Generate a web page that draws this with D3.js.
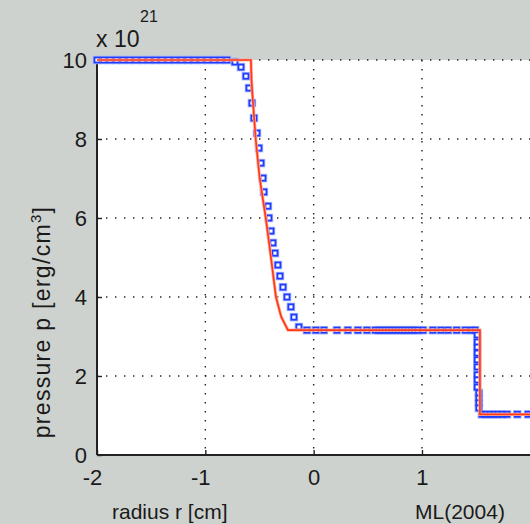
<!DOCTYPE html>
<html>
<head>
<meta charset="utf-8">
<script src="https://cdn.jsdelivr.net/npm/d3@7"></script>
<style>
  body { margin: 0; background: #ced2ce; }
  svg { display: block; }
  text { font-family: "Liberation Sans", Arial, sans-serif; fill: #1a1a1a; }
</style>
</head>
<body>
<div id="chart"></div>
<script>
// exact solution (red line)
var rExact = [-2, -0.579, -0.574, -0.562, -0.535, -0.498, -0.442, -0.394, -0.348, -0.300, -0.237, 1.535, 1.535, 2];
var pExact = [10, 10, 9.5, 9.0, 8.0, 7.0, 6.0, 5.0, 4.0, 3.5, 3.16, 3.16, 1.03, 1.03];

// numerical result (blue squares)
var rNum = [-2.00, -1.94, -1.88, -1.82, -1.76, -1.70, -1.64, -1.58, -1.52, -1.46, -1.40, -1.34, -1.28, -1.22, -1.16, -1.10, -1.04, -0.98, -0.92, -0.86, -0.80,
  -0.727, -0.671, -0.625, -0.597, -0.570, -0.551, -0.523, -0.505, -0.486, -0.468, -0.459, -0.422, -0.413, -0.394, -0.376, -0.357, -0.330, -0.311, -0.283, -0.246, -0.210, -0.182, -0.136,
  -0.062, 0.02, 0.095, 0.215, 0.316, 0.409, 0.492, 0.57, 0.60, 0.63, 0.66, 0.69, 0.72, 0.75, 0.78, 0.81, 0.84, 0.87, 0.90, 0.93, 0.96, 1.01, 1.10, 1.175, 1.24, 1.32, 1.40, 1.46, 1.49,
  1.51, 1.51, 1.51, 1.51, 1.51, 1.51, 1.51, 1.51, 1.51, 1.525, 1.525, 1.525, 1.525,
  1.553, 1.59, 1.63, 1.665, 1.70, 1.74, 1.785, 1.88, 1.98];
var pNum = [10, 10, 10, 10, 10, 10, 10, 10, 10, 10, 10, 10, 10, 10, 10, 10, 10, 10, 10, 10, 10,
  9.95, 9.82, 9.59, 9.29, 8.91, 8.53, 8.15, 7.77, 7.39, 7.01, 6.66, 6.30, 6.00, 5.67, 5.37, 5.11, 4.81, 4.53, 4.25, 4.00, 3.75, 3.49, 3.24,
  3.16, 3.16, 3.16, 3.16, 3.16, 3.16, 3.16, 3.16, 3.16, 3.16, 3.16, 3.16, 3.16, 3.16, 3.16, 3.16, 3.16, 3.16, 3.16, 3.16, 3.16, 3.16, 3.16, 3.16, 3.16, 3.16, 3.16, 3.16, 3.16,
  3.04, 2.86, 2.73, 2.58, 2.41, 2.23, 2.03, 1.90, 1.72, 1.57, 1.44, 1.32, 1.19,
  1.03, 1.03, 1.03, 1.03, 1.03, 1.03, 1.03, 1.03, 1.03];

var xTicks = [-2, -1, 0, 1];
var yTicks = [0, 2, 4, 6, 8, 10];

var W = 530, H = 524;
var margin = {top: 60, right: 0, bottom: 69, left: 97};
var width = W - margin.left - margin.right;
var height = H - margin.top - margin.bottom;

var x = d3.scaleLinear().domain([-2, 2]).range([0, 433.3]);
var y = d3.scaleLinear().domain([0, 10]).range([height, 0]);

var svg = d3.select('#chart').append('svg')
  .attr('width', W)
  .attr('height', H);

var main = svg.append('g')
  .attr('transform', 'translate(' + margin.left + ',' + margin.top + ')');

main.append('rect')
  .attr('width', width + 5)
  .attr('height', height)
  .attr('fill', '#fff');

// dotted grid
main.selectAll('.gx').data(xTicks.slice(1)).enter().append('line')
  .attr('x1', function (d) { return x(d); })
  .attr('x2', function (d) { return x(d); })
  .attr('y1', 0).attr('y2', height)
  .attr('stroke', '#222').attr('stroke-width', 1.4)
  .attr('stroke-dasharray', '1.4,7.6');
main.selectAll('.gy').data(yTicks.slice(1)).enter().append('line')
  .attr('x1', 0).attr('x2', width + 5)
  .attr('y1', function (d) { return y(d); })
  .attr('y2', function (d) { return y(d); })
  .attr('stroke', '#222').attr('stroke-width', 1.4)
  .attr('stroke-dasharray', '1.4,7.6');

// axes
var xAxis = d3.axisBottom(x).tickValues(xTicks).tickSizeInner(-5).tickSizeOuter(0).tickPadding(14)
  .tickFormat(function (d) { return d < 0 ? '-' + Math.abs(d) : d; });
var gx = main.append('g').attr('transform', 'translate(0,' + height + ')').call(xAxis);
var yAxis = d3.axisLeft(y).tickValues(yTicks).tickSizeInner(-5).tickSizeOuter(0).tickPadding(10);
var gy = main.append('g').call(yAxis);

[gx, gy].forEach(function (g) {
  g.select('.domain').attr('stroke', '#222').attr('stroke-width', 2);
  g.selectAll('.tick line').attr('stroke', '#222').attr('stroke-width', 1.4);
  g.selectAll('.tick text').attr('font-size', 22).attr('fill', '#1a1a1a')
    .style('font-family', '"Liberation Sans", Arial, sans-serif');
});
gx.selectAll('.tick text').attr('dx', function (d) { return d < 0 ? -5 : 0; });
gy.select('.domain').attr('d', 'M0,' + height + 'V0');
gx.select('.domain').attr('d', 'M0,0H' + (width + 5));

// numerical points
var pts = rNum.map(function (r, i) { return [r, pNum[i]]; });
var s = 5;
main.append('g').selectAll('rect').data(pts).enter().append('rect')
  .attr('x', function (d) { return x(d[0]) - s / 2; })
  .attr('y', function (d) { return y(d[1]) - s / 2; })
  .attr('width', s).attr('height', s)
  .attr('fill', 'none')
  .attr('stroke', '#a4b3ff').attr('stroke-width', 3.5);
main.append('g').selectAll('rect').data(pts).enter().append('rect')
  .attr('x', function (d) { return x(d[0]) - s / 2; })
  .attr('y', function (d) { return y(d[1]) - s / 2; })
  .attr('width', s).attr('height', s)
  .attr('fill', '#fff')
  .attr('stroke', '#1f3dff').attr('stroke-width', 1.8);

// exact line
var exact = rExact.map(function (r, i) { return [r, pExact[i]]; });
var line = d3.line().x(function (d) { return x(d[0]); }).y(function (d) { return y(d[1]); });
main.append('path').datum(exact).attr('d', line)
  .attr('fill', 'none').attr('stroke', '#ffb09e').attr('stroke-width', 3.2);
main.append('path').datum(exact).attr('d', line)
  .attr('fill', 'none').attr('stroke', '#ff3a1c').attr('stroke-width', 1.7);

// labels
svg.append('text').attr('x', 112).attr('y', 519).attr('font-size', 21).text('radius r [cm]');
svg.append('text').attr('x', 415).attr('y', 519).attr('font-size', 21).text('ML(2004)');

var yl = svg.append('text')
  .attr('transform', 'translate(50,322) rotate(-90)')
  .attr('text-anchor', 'middle')
  .attr('font-size', 23)
  .attr('letter-spacing', 1.3);
yl.append('tspan').text('pressure p [erg/cm');
yl.append('tspan').attr('font-size', 15).attr('dy', -9).text('3');
yl.append('tspan').attr('dy', 9).text(']');

var ex = svg.append('text').attr('x', 96).attr('y', 47).attr('font-size', 23);
ex.append('tspan').text('x 10');
svg.append('text').attr('x', 140).attr('y', 22).attr('font-size', 16).text('21');
</script>
</body>
</html>
